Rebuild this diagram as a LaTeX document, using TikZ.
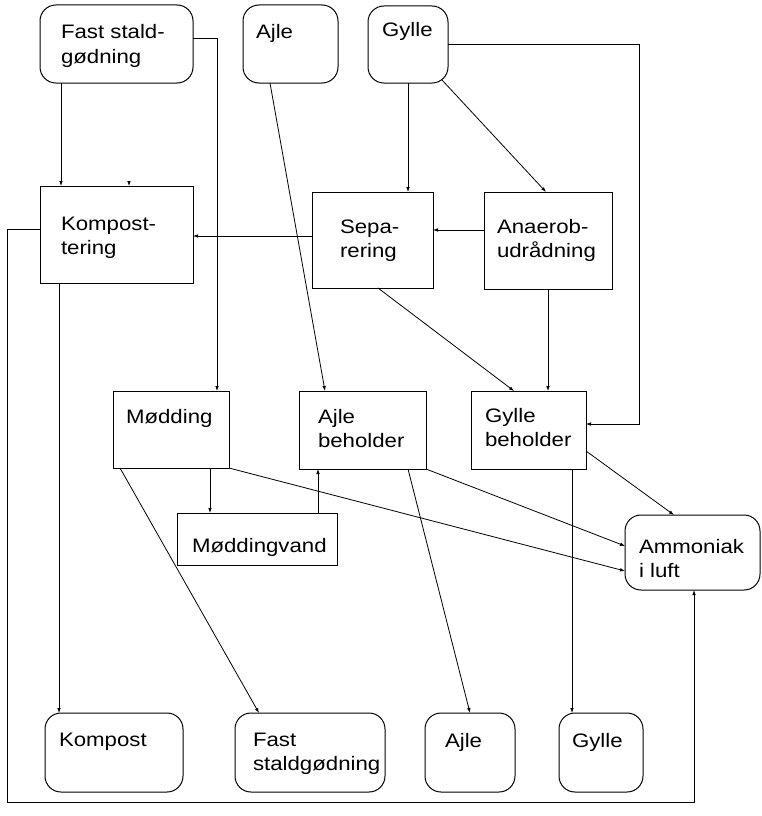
\documentclass[tikz,border=0pt]{standalone}
\usepackage{fontspec}
\setmainfont[FakeStretch=1.14]{Liberation Sans}
\usetikzlibrary{calc,arrows.meta}
\newcommand\linepair[2]{\begin{tabular}[t]{@{}l@{}}#1\\#2\end{tabular}}
\tikzset{
  box/.style={draw, line width=1pt, outer sep=0pt, inner sep=0pt, anchor=north west},
  rbox/.style={box, rounded corners=16pt},
  txt/.style={anchor=base west, inner sep=0pt, outer sep=0pt,
    font=\fontsize{19.5pt}{24.5pt}\selectfont},
  arr/.style={line width=0.8pt, -{Latex[length=5pt,width=3.6pt]}},
}
\begin{document}
\begin{tikzpicture}[x=1pt,y=-1pt]
\useasboundingbox (0,0) rectangle (761,816);

% sources
\node[rbox, minimum width=153pt, minimum height=78pt] (fs)   at (40,5)   {};
\node[rbox, minimum width=95pt,  minimum height=78pt] (ajt)  at (243,5)  {};
\node[rbox, minimum width=80pt,  minimum height=77pt] (gyt)  at (368,6)  {};
% treatment
\node[box, minimum width=153pt, minimum height=97pt]  (komp) at (40,186)  {};
\node[box, minimum width=121pt, minimum height=96pt]  (sep)  at (312,192) {};
\node[box, minimum width=128pt, minimum height=97pt]  (ana)  at (484,192) {};
% storage
\node[box, minimum width=116pt, minimum height=77pt]  (mod)  at (113,391) {};
\node[box, minimum width=127pt, minimum height=78pt]  (ajb)  at (299,391) {};
\node[box, minimum width=115pt, minimum height=78pt]  (gyb)  at (471,391) {};
\node[box, minimum width=160pt, minimum height=52pt]  (mv)   at (177,513) {};
\node[rbox, minimum width=135pt, minimum height=75pt] (amm)  at (625,515) {};
% products
\node[rbox, minimum width=138pt, minimum height=79pt] (kp)   at (45,713)  {};
\node[rbox, minimum width=150pt, minimum height=79pt] (fsb)  at (235,713) {};
\node[rbox, minimum width=90pt,  minimum height=79pt] (ajbo) at (425,713) {};
\node[rbox, minimum width=84pt,  minimum height=79pt] (gybo) at (559,713) {};

% labels
\node[txt] (fs-t)   at (61,39)  {\linepair{Fast stald-}{gødning}};
\node[txt] (ajt-t)  at (256,39) {Ajle};
\node[txt] (gyt-t)  at (382,37) {Gylle};
\node[txt] (komp-t) at (61,230) {\linepair{Kompost-}{tering}};
\node[txt] (sep-t)  at (340,233) {\linepair{Sepa-}{rering}};
\node[txt] (ana-t)  at (497,233) {\linepair{Anaerob-}{udrådning}};
\node[txt] (mod-t)  at (126,423) {Mødding};
\node[txt] (ajb-t)  at (318,423) {\linepair{Ajle}{beholder}};
\node[txt] (gyb-t)  at (485,422) {\linepair{Gylle}{beholder}};
\node[txt] (mv-t)   at (192,552) {Møddingvand};
\node[txt] (amm-t)  at (639,553) {\linepair{Ammoniak}{i luft}};
\node[txt] (kp-t)   at (59,746)  {Kompost};
\node[txt] (fsb-t)  at (253,746) {\linepair{Fast}{staldgødning}};
\node[txt] (ajbo-t) at (445,747) {Ajle};
\node[txt] (gybo-t) at (572,747) {Gylle};

% flows
\draw[arr] ($(fs.south west)+(21,0)$) -- ($(komp.north west)+(21,0)$);
\draw[arr] ($(komp.north west)+(89,-4)$) -- ($(komp.north west)+(89,0)$);
\draw[arr] ($(fs.north east)+(0,33)$) -| ($(mod.north west)+(104,0)$);
\draw[arr] ($(ajt.south west)+(27,0)$) -- ($(ajb.north west)+(26,0)$);
\draw[arr] ($(gyt.south west)+(40,0)$) -- ($(sep.north west)+(96,0)$);
\draw[arr] ($(gyt.south east)+(-6,-3)$) -- ($(ana.north west)+(62,0)$);
\draw[arr] ($(gyt.north east)+(0,38)$) -| ($(gyb.north east)+(53,33)$) -- ($(gyb.north east)+(0,33)$);
\draw[arr] ($(ana.north west)+(0,38)$) -- ($(sep.north east)+(0,38)$);
\draw[arr] ($(sep.north west)+(0,44)$) -- ($(komp.north east)+(0,50)$);
\draw[arr] ($(sep.south west)+(66,0)$) -- ($(gyb.north west)+(43,0)$);
\draw[arr] ($(ana.south west)+(64,0)$) -- ($(gyb.north west)+(77,0)$);
\draw[arr] ($(komp.south west)+(19,0)$) -- ($(kp.north west)+(14,0)$);
\draw[arr] ($(komp.north west)+(0,43)$) -- ++(-33,0) |- ($(amm.south west)+(69,212)$) -- ($(amm.south west)+(69,0)$);
\draw[arr] ($(mod.south west)+(97,0)$) -- ($(mv.north west)+(33,0)$);
\draw[arr] ($(mv.north west)+(141,0)$) -- ($(ajb.south west)+(19,0)$);
\draw[arr] ($(mod.south west)+(7,0)$) -- ($(fsb.north west)+(24,0)$);
\draw[arr] (mod.south east) -- ($(amm.north west)+(0,56)$);
\draw[arr] (ajb.south east) -- ($(amm.north west)+(0,31)$);
\draw[arr] ($(ajb.south west)+(109,0)$) -- ($(ajbo.north west)+(45,0)$);
\draw[arr] ($(gyb.north east)+(0,60)$) -- ($(amm.north west)+(49,0)$);
\draw[arr] ($(gyb.south west)+(101,0)$) -- ($(gybo.north west)+(13,0)$);
\end{tikzpicture}
\end{document}
